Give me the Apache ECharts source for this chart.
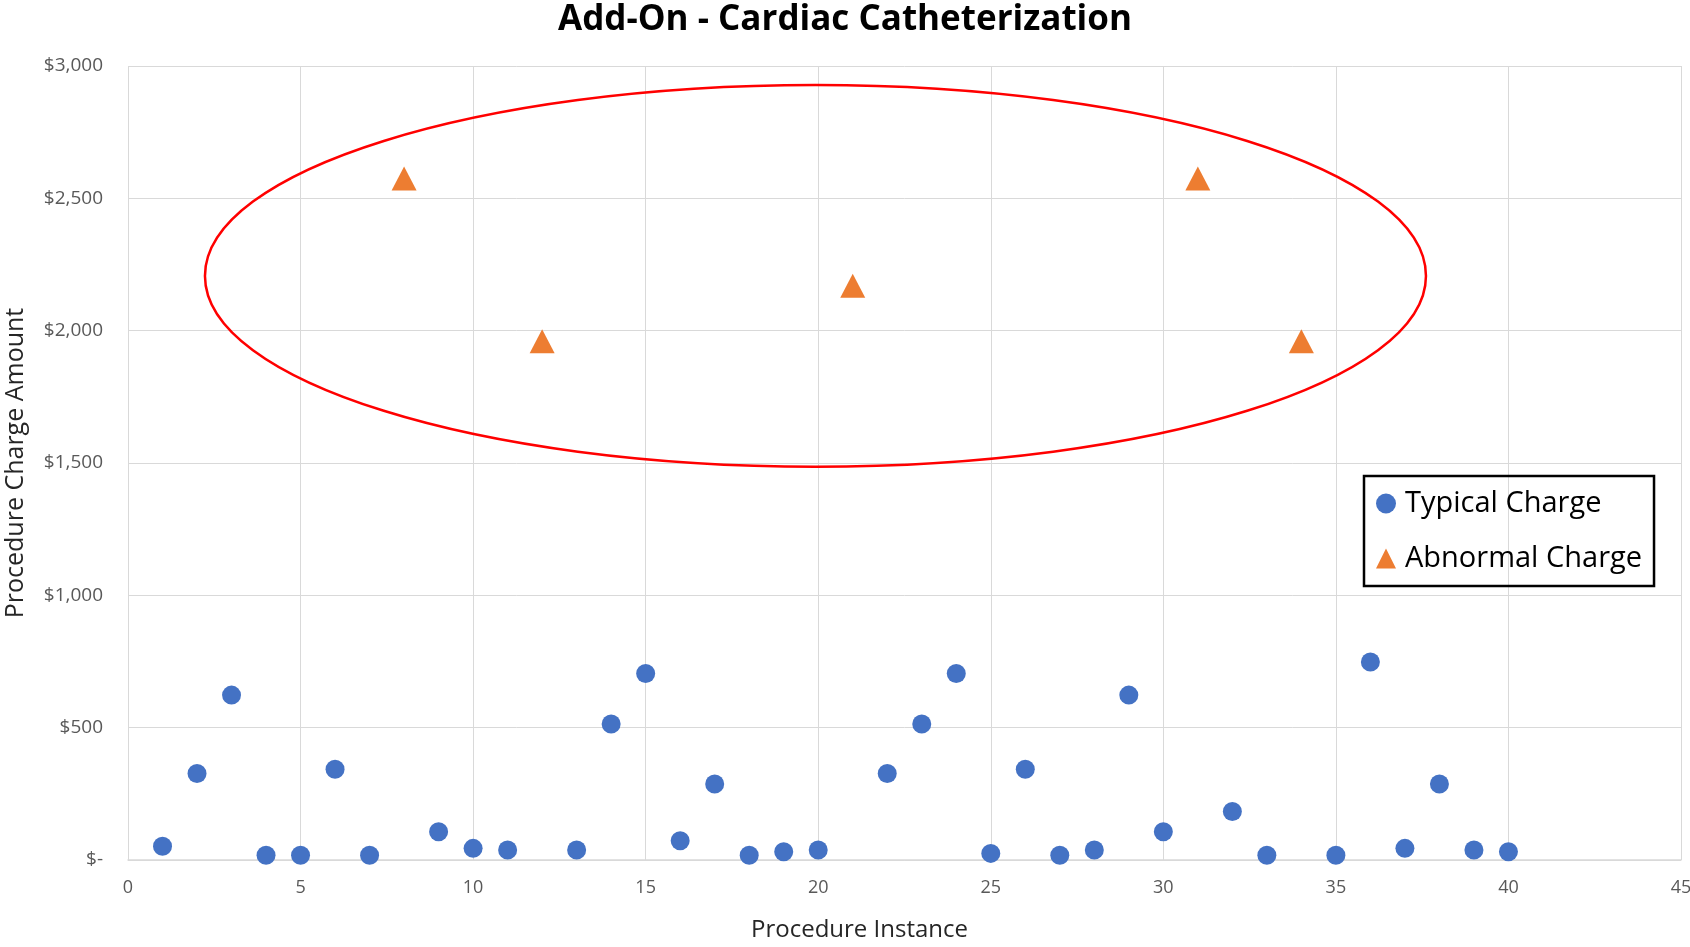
<!DOCTYPE html>
<html>
<head>
<meta charset="utf-8">
<script src="https://cdn.jsdelivr.net/npm/echarts@6/dist/echarts.min.js"></script>
<style>
html,body{margin:0;padding:0;background:#fff;}
#c{width:1690px;height:947px;}
</style>
</head>
<body>
<div id="c"></div>
<script>
// ---- data ----
const typicalX = [1,2,3,4,5,6,7,9,10,11,13,14,15,16,17,18,19,20,22,23,24,25,26,27,28,29,30,32,33,35,36,37,38,39,40];
const typicalY = [52,327,623,18,18,343,18,107,44,38,38,514,705,73,287,18,31,38,327,514,705,25,343,18,38,623,107,183,18,18,748,44,287,38,31];
const abnormalX = [8,12,21,31,34];
const abnormalY = [2575,1960,2170,2575,1960];
const xTicks = [0,5,10,15,20,25,30,35,40,45];
const yTicks = [0,500,1000,1500,2000,2500,3000];
// annotation ellipse in data units: [centerX, centerY, radiusX, radiusY]
const highlightEllipse = [19.92, 2207, 17.69, 721];

const typical = typicalX.map((x,i)=>[x, typicalY[i]]);
const abnormal = abnormalX.map((x,i)=>[x, abnormalY[i]]);

const chart = echarts.init(document.getElementById('c'), null, {renderer:'canvas'});
const gridColor = '#d9d9d9';
const tickColor = '#595959';

chart.setOption({
  animation:false,
  backgroundColor:'#fff',
  title:{
    text:'Add-On - Cardiac Catheterization',
    left:'center', top:-2,
    textStyle:{fontFamily:'Open Sans', fontWeight:'bold', fontSize:35, color:'#000'}
  },
  grid:{left:128, right:9, top:66, bottom:87, containLabel:false, outerBoundsMode:'none'},
  xAxis:{
    type:'value', min:xTicks[0], max:xTicks[xTicks.length-1], interval:5,
    name:'Procedure Instance', nameLocation:'middle', nameGap:58,
    nameTextStyle:{fontFamily:'Open Sans', fontSize:24, color:'#262626', padding:[0,90,0,0]},
    axisLine:{show:true, lineStyle:{color:gridColor, width:1.5}},
    axisTick:{show:false},
    axisLabel:{fontFamily:'Open Sans', fontSize:18, color:tickColor, margin:19},
    splitLine:{show:true, lineStyle:{color:gridColor, width:1}}
  },
  yAxis:{
    type:'value', min:yTicks[0], max:yTicks[yTicks.length-1], interval:500,
    name:'Procedure Charge Amount', nameLocation:'middle', nameGap:100,
    nameTextStyle:{fontFamily:'Open Sans', fontSize:25, color:'#262626'},
    axisLine:{show:false},
    axisTick:{show:false},
    axisLabel:{fontFamily:'Open Sans', fontSize:19, color:tickColor, margin:25,
      formatter:v=> v===0 ? '$-' : '$' + v.toLocaleString('en-US')},
    splitLine:{show:true, lineStyle:{color:gridColor, width:1}}
  },
  legend:{
    orient:'vertical', left:1364, top:476,
    borderColor:'#000', borderWidth:2.5,
    padding:[13,12,13,12], itemGap:26,
    itemWidth:20, itemHeight:20,
    textStyle:{fontFamily:'Open Sans', fontSize:29, color:'#000', padding:[0,0,0,4]},
    data:[{name:'Typical Charge', icon:'circle'},{name:'Abnormal Charge', icon:'triangle'}]
  },
  series:[
    {name:'Typical Charge', type:'scatter', symbol:'circle', symbolSize:19,
     itemStyle:{color:'#4472C4', opacity:1}, data:typical, z:3},
    {name:'Abnormal Charge', type:'scatter', symbol:'triangle', symbolSize:[25,24],
     itemStyle:{color:'#ED7D31', opacity:1}, data:abnormal, z:3}
  ]
});

function drawEllipse(){
  const c = chart.convertToPixel({gridIndex:0}, [highlightEllipse[0], highlightEllipse[1]]);
  const e = chart.convertToPixel({gridIndex:0}, [highlightEllipse[0]+highlightEllipse[2], highlightEllipse[1]+highlightEllipse[3]]);
  chart.setOption({
    graphic:[{
      type:'ellipse', id:'ring', z:10,
      shape:{cx:c[0], cy:c[1], rx:Math.abs(e[0]-c[0]), ry:Math.abs(c[1]-e[1])},
      style:{fill:null, stroke:'#FF0000', lineWidth:2.5}
    }]
  });
}
drawEllipse();
</script>
</body>
</html>
